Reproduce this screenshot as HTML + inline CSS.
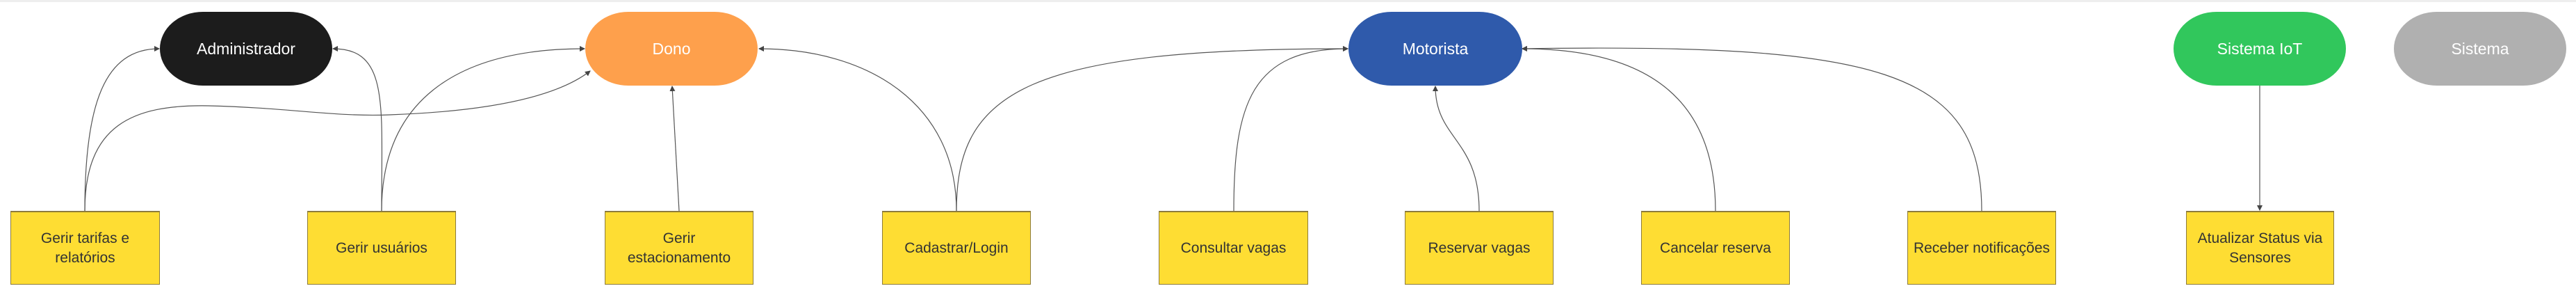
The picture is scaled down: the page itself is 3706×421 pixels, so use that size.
<!DOCTYPE html>
<html><head><meta charset="utf-8"><style>
html,body{margin:0;padding:0;background:#fff;}
body{width:3706px;height:421px;position:relative;overflow:hidden;font-family:"Liberation Sans",sans-serif;}
.top{position:absolute;left:0;top:0;width:3706px;height:3px;background:#eeeeee;}
.n{position:absolute;top:17px;height:106px;width:248px;border-radius:62px/53px;color:#fff;font-size:23px;display:flex;align-items:center;justify-content:center;}
.b{position:absolute;top:303px;height:106px;width:212px;background:#fedd33;border:1px solid #8c7b3c;border-top:2px solid #8c7b3c;box-sizing:border-box;color:#333;font-size:21px;display:flex;align-items:center;justify-content:center;text-align:center;line-height:28px;}
svg{position:absolute;left:0;top:0;}
</style></head><body>
<div class="top"></div>
<svg width="3706" height="421">
<defs><marker id="a" markerWidth="8" markerHeight="8" refX="7" refY="4" orient="auto" markerUnits="userSpaceOnUse"><path d="M0,0 L8,4 L0,8 z" fill="#444"/></marker></defs>
<g fill="none" stroke="#555" stroke-width="1.2" marker-end="url(#a)">
<path d="M122 303 C122 150 150 70 229 70"/>
<path d="M122 303 C122 180 190 150 300 152 C420 155 480 168 560 165 C700 160 800 140 849 102"/>
<path d="M549 303 C549 150 560 70 479 70"/>
<path d="M549 303 C549 150 650 70 841 70"/>
<path d="M977 303 L967 124"/>
<path d="M1376 303 C1376 150 1250 70 1092 70"/>
<path d="M1376 303 C1376 130 1480 70 1939 70"/>
<path d="M1775 303 C1775 150 1800 70 1939 70"/>
<path d="M2128 303 C2128 200 2065 200 2065 124"/>
<path d="M2468 303 C2468 150 2380 70 2190 70"/>
<path d="M2851 303 C2851 100 2700 62 2190 70"/>
<path d="M3251 123 L3251 302"/>
</g>
</svg>
<div class="n" style="left:230px;background:#1c1c1c;">Administrador</div>
<div class="n" style="left:842px;background:#fea04c;">Dono</div>
<div class="n" style="left:1940px;width:250px;background:#2f5aab;">Motorista</div>
<div class="n" style="left:3127px;background:#31c75c;">Sistema IoT</div>
<div class="n" style="left:3444px;background:#b0b0b0;">Sistema</div>
<div class="b" style="left:15px;width:215px;">Gerir tarifas e<br>relatórios</div>
<div class="b" style="left:442px;width:214px;">Gerir usuários</div>
<div class="b" style="left:870px;width:214px;">Gerir<br>estacionamento</div>
<div class="b" style="left:1269px;width:214px;">Cadastrar/Login</div>
<div class="b" style="left:1667px;width:215px;">Consultar vagas</div>
<div class="b" style="left:2021px;width:214px;">Reservar vagas</div>
<div class="b" style="left:2361px;width:214px;">Cancelar reserva</div>
<div class="b" style="left:2744px;width:214px;">Receber notificações</div>
<div class="b" style="left:3145px;width:213px;">Atualizar Status via<br>Sensores</div>
</body></html>
